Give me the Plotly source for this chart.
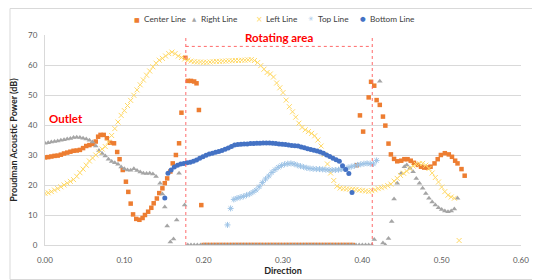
import plotly.graph_objects as go

# ---------------- data ----------------
center_x = [0.000, 0.004, 0.008, 0.012, 0.016, 0.020, 0.024, 0.028, 0.032, 0.036,
            0.040, 0.044, 0.048, 0.052, 0.056, 0.060, 0.064, 0.067, 0.070, 0.074,
            0.078, 0.082, 0.087, 0.091, 0.094, 0.098, 0.102, 0.105, 0.108, 0.111,
            0.115, 0.119, 0.123, 0.126, 0.130, 0.134, 0.137, 0.141, 0.144, 0.148,
            0.151, 0.154, 0.158, 0.161, 0.165, 0.169, 0.172, 0.177, 0.180, 0.184,
            0.188, 0.191, 0.194, 0.197,
            0.200, 0.204, 0.208, 0.212, 0.216, 0.220, 0.224, 0.228, 0.232, 0.236,
            0.240, 0.244, 0.248, 0.252, 0.256, 0.260, 0.264, 0.268, 0.272, 0.276,
            0.280, 0.284, 0.288, 0.292, 0.296, 0.300, 0.304, 0.308, 0.312, 0.316,
            0.320, 0.324, 0.328, 0.332, 0.336, 0.340, 0.344, 0.348, 0.352, 0.356,
            0.360, 0.364, 0.368, 0.372, 0.376, 0.380, 0.384, 0.388,
            0.393, 0.397, 0.401, 0.408, 0.411, 0.415, 0.418, 0.422, 0.426, 0.429,
            0.433, 0.436, 0.440, 0.444, 0.449, 0.453, 0.457, 0.461, 0.465, 0.470,
            0.474, 0.478, 0.482, 0.486, 0.491, 0.495, 0.499, 0.504, 0.509, 0.513,
            0.517, 0.520, 0.525, 0.529]
center_y = [29.2, 29.3, 29.5, 29.7, 29.8, 30.1, 30.5, 30.8, 31.1, 31.4,
            31.5, 31.7, 32.3, 33.0, 33.3, 33.7, 34.5, 36.1, 36.7, 36.7,
            35.6, 34.1, 33.9, 31.0, 28.6, 25.0, 21.1, 17.7, 13.8, 10.2,
            8.7, 8.4, 9.0, 10.0, 11.1, 12.4, 13.9, 15.5, 17.3, 18.9,
            20.6, 22.2, 24.5, 27.2, 30.0, 33.9, 44.1, 62.4, 54.7, 54.7,
            54.5, 53.9, 45.0, 13.3,
            0, 0, 0, 0, 0, 0, 0, 0, 0, 0,
            0, 0, 0, 0, 0, 0, 0, 0, 0, 0,
            0, 0, 0, 0, 0, 0, 0, 0, 0, 0,
            0, 0, 0, 0, 0, 0, 0, 0, 0, 0,
            0, 0, 0, 0, 0, 0, 0, 0,
            26.6, 43.2, 37.8, 49.2, 54.4, 53.1, 48.3, 46.7, 42.8, 39.8,
            33.8, 30.2, 28.7, 27.9, 28.1, 28.6, 28.6, 28.1, 27.4, 26.7,
            26.1, 25.8, 25.8, 26.1, 27.2, 28.6, 30.0, 30.6, 30.2, 29.4,
            28.1, 27.2, 25.3, 23.1]

right_x = [0.000, 0.004, 0.008, 0.012, 0.016, 0.020, 0.024, 0.028, 0.032, 0.036,
           0.040, 0.044, 0.048, 0.052, 0.056, 0.060, 0.064, 0.068, 0.072, 0.076,
           0.080, 0.084, 0.088, 0.092, 0.096, 0.100, 0.104, 0.108, 0.112, 0.116,
           0.120, 0.124, 0.128, 0.132, 0.136, 0.140, 0.145, 0.148, 0.151, 0.154,
           0.158, 0.162, 0.166, 0.169, 0.176,
           0.180, 0.184, 0.188, 0.192, 0.196, 0.200, 0.204, 0.208, 0.212, 0.216,
           0.220, 0.224, 0.228, 0.232, 0.236, 0.240, 0.244, 0.248, 0.252, 0.256,
           0.260, 0.264, 0.268, 0.272, 0.276, 0.280, 0.284, 0.288, 0.292, 0.296,
           0.300, 0.304, 0.308, 0.312, 0.316, 0.320, 0.324, 0.328, 0.332, 0.336,
           0.340, 0.344, 0.348, 0.352, 0.356, 0.360, 0.364, 0.368, 0.372, 0.376,
           0.380, 0.384, 0.388, 0.392, 0.396, 0.400, 0.404, 0.408, 0.412,
           0.415, 0.422, 0.426, 0.429, 0.433, 0.437, 0.440, 0.444, 0.449, 0.453,
           0.456, 0.460, 0.464, 0.468, 0.472, 0.476, 0.480, 0.484, 0.488, 0.492,
           0.496, 0.500, 0.504, 0.508, 0.512, 0.516, 0.520]
right_y = [33.9, 34.1, 34.3, 34.5, 34.7, 34.9, 35.1, 35.3, 35.5, 35.8,
           35.9, 35.8, 35.6, 35.3, 34.9, 34.3, 33.0, 31.5, 30.5, 29.7,
           28.6, 27.8, 27.4, 26.9, 26.0, 25.4, 25.0, 24.9, 25.4, 24.8,
           24.3, 23.9, 23.8, 23.9, 23.7, 22.8, 20.6, 17.0, 12.7, 6.3,
           1.0, 2.0, 8.3, 23.9, 13.3,
           0, 0, 0, 0, 0, 0, 0, 0, 0, 0,
           0, 0, 0, 0, 0, 0, 0, 0, 0, 0,
           0, 0, 0, 0, 0, 0, 0, 0, 0, 0,
           0, 0, 0, 0, 0, 0, 0, 0, 0, 0,
           0, 0, 0, 0, 0, 0, 0, 0, 0, 0,
           0, 0, 0, 0, 0, 0, 0, 0, 0,
           1.8, 54.6, 0.7, 0.0, 2.2, 7.8, 15.3, 20.6, 23.9, 26.1,
           26.7, 25.6, 24.4, 22.2, 20.6, 18.9, 17.2, 15.6, 14.3, 13.3,
           12.4, 11.8, 11.3, 11.1, 11.3, 12.0, 15.6]

left_x = [0.000, 0.004, 0.008, 0.012, 0.016, 0.020, 0.024, 0.028, 0.032, 0.036,
          0.040, 0.044, 0.048, 0.052, 0.056, 0.060, 0.064, 0.068, 0.072, 0.076,
          0.080, 0.084, 0.088, 0.092, 0.096, 0.100, 0.104, 0.108, 0.112, 0.116,
          0.120, 0.124, 0.128, 0.132, 0.136, 0.140, 0.144, 0.148, 0.152, 0.156,
          0.160, 0.164, 0.168, 0.172, 0.176, 0.180, 0.184, 0.188, 0.192, 0.196,
          0.200, 0.204, 0.208, 0.212, 0.216, 0.220, 0.224, 0.228, 0.232, 0.236,
          0.240, 0.244, 0.248, 0.252, 0.256, 0.260, 0.264, 0.268, 0.272, 0.276,
          0.280, 0.284, 0.288, 0.292, 0.296, 0.300, 0.304, 0.308, 0.312, 0.316,
          0.320, 0.324, 0.328, 0.332, 0.336, 0.340, 0.344, 0.348, 0.352, 0.356,
          0.360, 0.364, 0.368, 0.372, 0.376, 0.380, 0.384, 0.388, 0.392, 0.396,
          0.400, 0.404, 0.408, 0.412, 0.416, 0.420, 0.424, 0.428, 0.432, 0.436,
          0.440, 0.444, 0.448, 0.452, 0.456, 0.460, 0.464, 0.468, 0.472, 0.476,
          0.480, 0.484, 0.488, 0.492, 0.496, 0.500, 0.504, 0.508, 0.512, 0.516,
          0.522]
left_y = [17.2, 17.4, 17.8, 18.3, 18.8, 19.4, 20.0, 20.6, 21.2, 21.8,
          22.9, 24.1, 25.3, 26.6, 28.0, 29.0, 30.0, 31.0, 32.0, 32.8,
          34.3, 36.5, 38.8, 41.0, 43.2, 44.8, 46.5, 48.2, 49.9, 51.7,
          53.4, 55.0, 56.6, 58.0, 59.4, 60.6, 61.6, 62.2, 63.0, 63.8,
          64.3, 63.8, 63.0, 62.5, 62.0, 61.6, 61.3, 61.1, 61.0, 61.0,
          60.9, 60.9, 61.0, 61.1, 61.2, 61.2, 61.3, 61.3, 61.4, 61.4,
          61.5, 61.5, 61.6, 61.6, 61.7, 61.8, 61.5, 60.8, 59.8, 58.6,
          57.5, 57.0, 56.0, 54.0, 52.4, 50.8, 48.3, 46.1, 44.4, 42.6,
          40.6, 39.2, 38.4, 37.8, 37.2, 36.4, 35.0, 33.0, 30.2, 27.0,
          24.0, 21.5, 19.6, 19.0, 18.8, 18.7, 18.6, 18.6, 18.5, 18.3,
          18.2, 18.0, 17.9, 18.1, 18.4, 18.8, 19.1, 19.4, 19.8, 20.3,
          21.3, 22.2, 23.2, 23.9, 24.6, 25.5, 26.3, 26.9, 27.1, 27.2,
          26.6, 25.5, 24.0, 22.5, 21.0, 19.3, 17.8, 16.6, 16.0, 15.6,
          1.5]

top_x = [0.230, 0.234, 0.238, 0.242, 0.246, 0.250, 0.254, 0.258, 0.262, 0.266,
         0.270, 0.274, 0.278, 0.282, 0.286, 0.290, 0.294, 0.298, 0.302, 0.306,
         0.310, 0.314, 0.318, 0.322, 0.326, 0.330, 0.334, 0.338, 0.342, 0.346,
         0.350, 0.354, 0.358, 0.362, 0.366, 0.370, 0.374, 0.378, 0.382, 0.386,
         0.390, 0.394, 0.398, 0.402, 0.406, 0.410, 0.414, 0.418]
top_y = [6.7, 12.2, 15.2, 15.6, 15.9, 16.2, 16.6, 17.0, 17.6, 18.3,
         19.4, 20.8, 22.0, 23.0, 24.2, 25.1, 25.9, 26.5, 26.9, 27.1,
         27.2, 27.0, 26.6, 26.3, 26.0, 25.7, 25.5, 25.4, 25.3, 25.3,
         25.2, 25.1, 25.0, 25.0, 25.0, 25.1, 25.3, 25.5, 25.8, 26.1,
         26.4, 26.7, 26.9, 27.1, 27.2, 27.1, 27.0, 28.2]

bottom_x = [0.151, 0.155, 0.159, 0.163, 0.167, 0.171, 0.175, 0.179, 0.183, 0.187,
            0.191, 0.195, 0.199, 0.203, 0.207, 0.211, 0.215, 0.219, 0.223, 0.227,
            0.231, 0.235, 0.239, 0.243, 0.247, 0.251, 0.255, 0.259, 0.263, 0.267,
            0.271, 0.275, 0.279, 0.283, 0.287, 0.291, 0.295, 0.299, 0.303, 0.307,
            0.311, 0.315, 0.319, 0.323, 0.327, 0.331, 0.335, 0.339, 0.343, 0.347,
            0.351, 0.355, 0.359, 0.363, 0.367, 0.371, 0.375, 0.379, 0.383, 0.387]
bottom_y = [15.7, 23.9, 25.0, 26.0, 26.6, 27.0, 27.2, 27.4, 27.6, 27.9,
            28.3, 28.9, 29.4, 29.9, 30.3, 30.6, 30.9, 31.2, 31.5, 31.9,
            32.3, 32.8, 33.3, 33.5, 33.6, 33.7, 33.7, 33.8, 33.8, 33.9,
            33.9, 34.0, 34.0, 34.0, 33.9, 33.8, 33.7, 33.6, 33.5, 33.3,
            33.2, 33.1, 33.0, 32.7, 32.4, 32.1, 31.8, 31.6, 31.3, 31.0,
            30.6, 30.0, 29.5, 28.9, 28.4, 27.9, 26.4, 25.2, 23.8, 17.5]

series_names = ["Center Line", "Right Line", "Left Line", "Top Line", "Bottom Line"]

rotating_start = 0.1775
rotating_end = 0.4125
rotating_level = 66.2
outlet_level = 42.3

# ---------------- layout geometry ----------------
# The page body adds an 8px margin, so the figure is drawn 8px smaller and
# reference pixel positions (window coords) are shifted by OFF.
OFF = 8
W, H = 540 - OFF, 280 - OFF
PLOT_L, PLOT_R, PLOT_T, PLOT_B = 45, 521, 35, 245   # window pixels of the plot area
L, R = PLOT_L - OFF, W - (PLOT_R - OFF)
T, B = PLOT_T - OFF, H - (PLOT_B - OFF)
PW, PH = W - L - R, H - T - B


def px_x(p):  # window pixel column -> paper coordinate
    return (p - OFF - L) / PW


def px_y(p):  # window pixel row -> paper coordinate
    return (H - B - (p - OFF)) / PH


FONT = "Lato"
colors = ["#ED7D31", "#A5A5A5", "#FFD966", "#9DC3E6", "#4472C4"]

fig = go.Figure()
fig.add_trace(go.Scatter(x=center_x, y=center_y, name=series_names[0], mode="markers",
                         marker=dict(symbol="square", size=4.5, color=colors[0])))
fig.add_trace(go.Scatter(x=right_x, y=right_y, name=series_names[1], mode="markers",
                         marker=dict(symbol="triangle-up", size=5, color=colors[1])))
fig.add_trace(go.Scatter(x=left_x, y=left_y, name=series_names[2], mode="markers",
                         marker=dict(symbol="x-thin-open", size=5, color=colors[2],
                                     line=dict(color=colors[2], width=1))))
fig.add_trace(go.Scatter(x=top_x, y=top_y, name=series_names[3], mode="markers",
                         marker=dict(symbol="asterisk-open", size=5, color=colors[3],
                                     line=dict(color=colors[3], width=1))))
fig.add_trace(go.Scatter(x=bottom_x, y=bottom_y, name=series_names[4], mode="markers",
                         marker=dict(symbol="circle", size=5, color=colors[4])))

red_line = dict(color="#FF6B6B", width=1, dash="dot")
for xv in (rotating_start, rotating_end):
    fig.add_shape(type="line", xref="x", yref="y", x0=xv, x1=xv, y0=0, y1=70,
                  line=red_line, layer="above")
fig.add_shape(type="line", xref="x", yref="y", x0=rotating_start, x1=rotating_end,
              y0=rotating_level, y1=rotating_level, line=red_line, layer="above")

# outer chart border
fig.add_shape(type="rect", xref="paper", yref="paper",
              x0=px_x(10), x1=px_x(537), y0=px_y(279.5), y1=px_y(8.5),
              line=dict(color="#D9D9D9", width=1), layer="below")

fig.add_annotation(x=(rotating_start + rotating_end) / 2, y=rotating_level, xref="x", yref="y",
                   text="<b>Rotating area</b>", showarrow=False, yanchor="bottom", yshift=0,
                   font=dict(family=FONT, size=11.5, color="#FF0000"))
fig.add_annotation(x=0.003, y=outlet_level, xref="x", yref="y", text="<b>Outlet</b>",
                   showarrow=False, xanchor="left",
                   font=dict(family=FONT, size=11.5, color="#FF0000"))

# compact legend (Excel-style): glyph + label
legend_glyphs = ["\u25A0", "\u25B2", "\u00D7", "\u2733", "\u25CF"]
legend_glyph_size = [6, 5.5, 8, 6.5, 6.5]
legend_marker_px = [137, 194, 259, 311, 363]
for name, glyph, gsz, mx, col in zip(series_names, legend_glyphs, legend_glyph_size,
                                     legend_marker_px, colors):
    fig.add_annotation(x=px_x(mx), y=px_y(19), xref="paper", yref="paper", text=glyph,
                       showarrow=False, xanchor="center", yanchor="middle",
                       font=dict(family="DejaVu Sans", size=gsz, color=col))
    fig.add_annotation(x=px_x(mx + 5), y=px_y(19), xref="paper", yref="paper", text=name,
                       showarrow=False, xanchor="left", yanchor="middle",
                       font=dict(family=FONT, size=8.3, color="#404040"))

fig.update_layout(
    width=W, height=H,
    margin=dict(l=L, r=R, t=T, b=B, autoexpand=False),
    paper_bgcolor="white", plot_bgcolor="white",
    font=dict(family=FONT, size=8, color="#595959"),
    showlegend=False,
    xaxis=dict(range=[0, 0.6], dtick=0.1, tickformat=".2f", showgrid=False,
               showline=True, linecolor="#D9D9D9", zeroline=False, ticks="",
               ticklabelstandoff=7, automargin=False,
               tickfont=dict(family=FONT, size=8, color="#595959"),
               title=dict(text="<b>Direction</b>", standoff=1,
                          font=dict(family=FONT, size=9, color="#262626"))),
    yaxis=dict(range=[0, 70], dtick=10, showgrid=True, gridcolor="#D9D9D9",
               showline=True, linecolor="#D9D9D9", zeroline=False, ticks="",
               ticklabelstandoff=5, automargin=False,
               tickfont=dict(family=FONT, size=8, color="#595959"),
               title=dict(text="<b>Proudman Acoustic Power (dB)</b>", standoff=16,
                          font=dict(family=FONT, size=9, color="#262626"))),
)

fig.write_html("out.html")
